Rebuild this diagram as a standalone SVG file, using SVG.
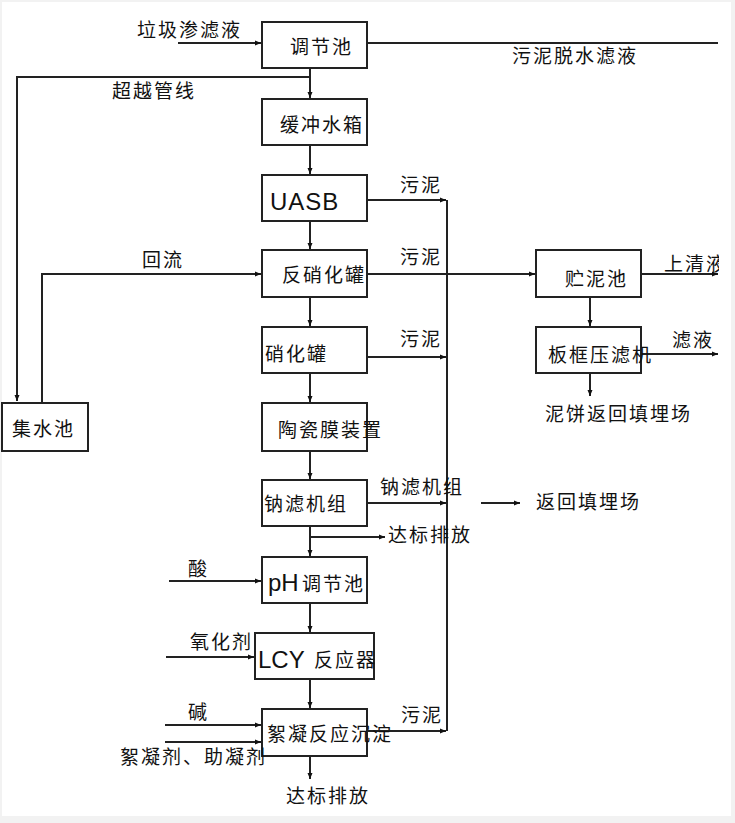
<svg xmlns="http://www.w3.org/2000/svg" width="735" height="823" viewBox="0 0 735 823">
<defs>
<marker id="ah" markerUnits="userSpaceOnUse" markerWidth="8" markerHeight="8" refX="7" refY="4" orient="auto">
<path d="M1,1.5 L7,4 L1,6.5 Z" fill="#111"/>
</marker>
<clipPath id="clipR"><rect x="0" y="0" width="719" height="823"/></clipPath>
<style>
.box{fill:#fff;stroke:#222;stroke-width:2}
.ln{fill:none;stroke:#222;stroke-width:2}
.t{font-family:"Noto Sans CJK SC","Noto Sans CJK JP",sans-serif;font-size:19px;fill:#111;letter-spacing:2px}
.l{font-family:"Liberation Sans","DejaVu Sans",sans-serif;font-size:24px;fill:#111}
</style>
</defs>
<rect x="0" y="0" width="735" height="823" fill="#f2f2f2"/>
<rect x="2" y="2" width="729" height="814" fill="#fff"/>

<g id="connectors">
<path class="ln" d="M178,43 H261" marker-end="url(#ah)"/>
<path class="ln" d="M367,43 H718"/>
<path class="ln" d="M310,68 V98" marker-end="url(#ah)"/>
<path class="ln" d="M310,77 H17 V401" marker-end="url(#ah)"/>
<path class="ln" d="M310,145 V174" marker-end="url(#ah)"/>
<path class="ln" d="M310,221 V249" marker-end="url(#ah)"/>
<path class="ln" d="M310,297 V326" marker-end="url(#ah)"/>
<path class="ln" d="M310,373 V402" marker-end="url(#ah)"/>
<path class="ln" d="M310,451 V479" marker-end="url(#ah)"/>
<path class="ln" d="M310,526 V556" marker-end="url(#ah)"/>
<path class="ln" d="M310,537 H385" marker-end="url(#ah)"/>
<path class="ln" d="M310,603 V632" marker-end="url(#ah)"/>
<path class="ln" d="M310,679 V708" marker-end="url(#ah)"/>
<path class="ln" d="M310,756 V779" marker-end="url(#ah)"/>
<path class="ln" d="M42,403 V274 H261" marker-end="url(#ah)"/>
<path class="ln" d="M367,200 H446" marker-end="url(#ah)"/>
<path class="ln" d="M447,200 V731"/>
<path class="ln" d="M367,274 H535" marker-end="url(#ah)"/>
<path class="ln" d="M367,357 H446" marker-end="url(#ah)"/>
<path class="ln" d="M367,503 H446" marker-end="url(#ah)"/>
<path class="ln" d="M481,503 H520" marker-end="url(#ah)"/>
<path class="ln" d="M367,731 H446" marker-end="url(#ah)"/>
<path class="ln" d="M641,274 H718" marker-end="url(#ah)"/>
<path class="ln" d="M590,297 V326" marker-end="url(#ah)"/>
<path class="ln" d="M641,354 H718" marker-end="url(#ah)"/>
<path class="ln" d="M590,373 V396" marker-end="url(#ah)"/>
<path class="ln" d="M169,581 H261" marker-end="url(#ah)"/>
<path class="ln" d="M166,657 H254" marker-end="url(#ah)"/>
<path class="ln" d="M165,725 H261" marker-end="url(#ah)"/>
<path class="ln" d="M165,742 H261" marker-end="url(#ah)"/>
</g>

<g id="n-tiaojiechi"><rect class="box" x="262" y="22" width="105" height="46"/><text class="t" x="290" y="54">调节池</text></g>
<g id="n-huanchong"><rect class="box" x="262" y="99" width="105" height="46"/><text class="t" x="280" y="132">缓冲水箱</text></g>
<g id="n-uasb"><rect class="box" x="262" y="175" width="105" height="46"/><text class="l" x="270" y="210" letter-spacing="1">UASB</text></g>
<g id="n-fanxiaohua"><rect class="box" x="262" y="250" width="105" height="47"/><text class="t" x="282" y="282">反硝化罐</text></g>
<g id="n-xiaohua"><rect class="box" x="262" y="327" width="105" height="46"/><text class="t" x="265" y="361">硝化罐</text></g>
<g id="n-taoci"><rect class="box" x="262" y="403" width="105" height="48"/><text class="t" x="278" y="437">陶瓷膜装置</text></g>
<g id="n-nalv"><rect class="box" x="262" y="480" width="105" height="46"/><text class="t" x="264" y="511">钠滤机组</text></g>
<g id="n-ph"><rect class="box" x="262" y="557" width="105" height="46"/><text class="l" x="268" y="591">pH</text><text class="t" x="302" y="591">调节池</text></g>
<g id="n-lcy"><rect class="box" x="255" y="633" width="119" height="46"/><text class="l" x="258" y="668">LCY</text><text class="t" x="314" y="667" letter-spacing="0">反应器</text></g>
<g id="n-xuning"><rect class="box" x="262" y="709" width="105" height="47"/><text class="t" x="267" y="741" letter-spacing="2.5">絮凝反应沉淀</text></g>
<g id="n-jishui"><rect class="box" x="2" y="403" width="86" height="48"/><text class="t" x="12" y="436">集水池</text></g>
<g id="n-zhuni"><rect class="box" x="536" y="250" width="105" height="47"/><text class="t" x="565" y="286">贮泥池</text></g>
<g id="n-bankuang"><rect class="box" x="536" y="327" width="105" height="46"/><text class="t" x="548" y="362">板框压滤机</text></g>

<g id="labels">
<text class="t" x="137" y="37">垃圾渗滤液</text>
<text class="t" x="512" y="63">污泥脱水滤液</text>
<text class="t" x="112" y="98">超越管线</text>
<text class="t" x="400" y="192">污泥</text>
<text class="t" x="142" y="267">回流</text>
<text class="t" x="400" y="264">污泥</text>
<text class="t" x="664" y="271" clip-path="url(#clipR)">上清液</text>
<text class="t" x="400" y="346">污泥</text>
<text class="t" x="672" y="347">滤液</text>
<text class="t" x="545" y="421">泥饼返回填埋场</text>
<text class="t" x="380" y="494">钠滤机组</text>
<text class="t" x="536" y="509">返回填埋场</text>
<text class="t" x="388" y="542">达标排放</text>
<text class="t" x="188" y="576">酸</text>
<text class="t" x="190" y="649">氧化剂</text>
<text class="t" x="188" y="719">碱</text>
<text class="t" x="401" y="722">污泥</text>
<text class="t" x="120" y="764">絮凝剂、助凝剂</text>
<text class="t" x="286" y="803">达标排放</text>
</g>
</svg>
